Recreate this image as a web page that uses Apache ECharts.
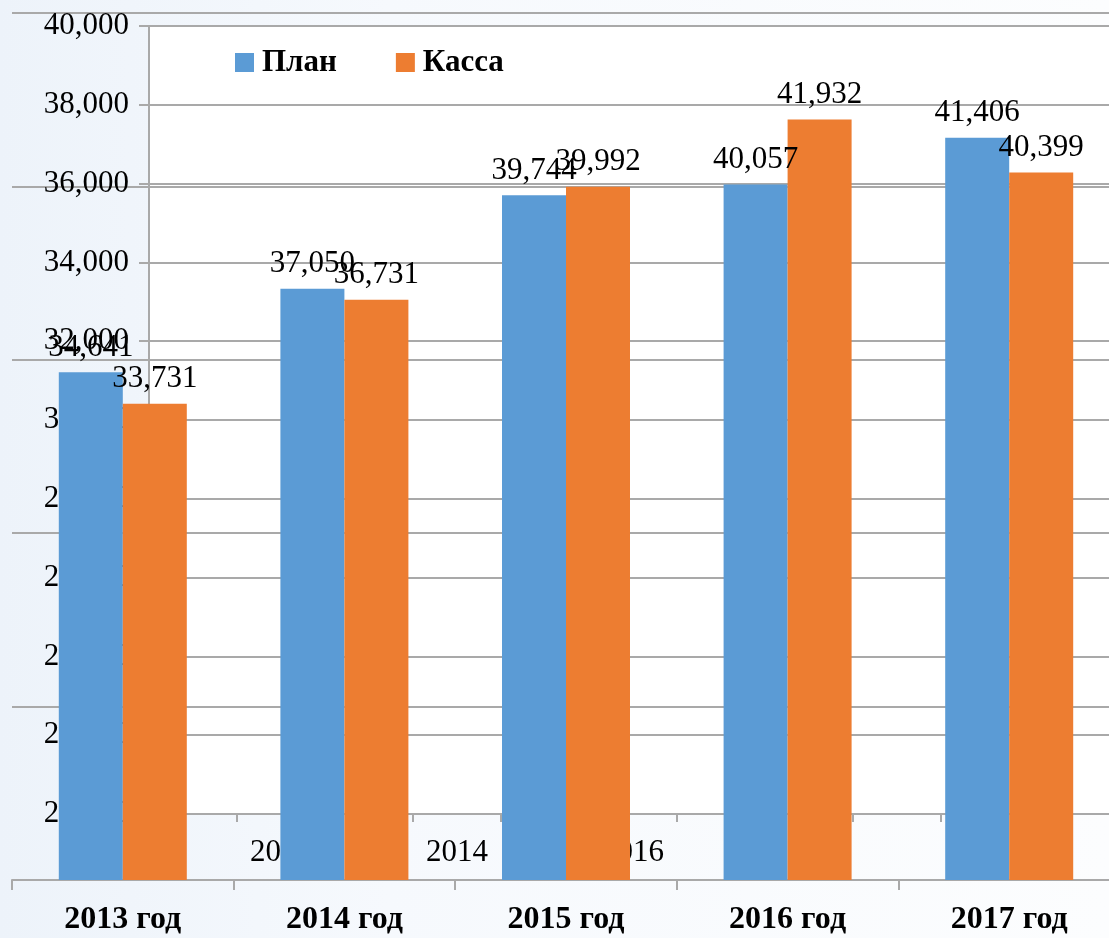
<!DOCTYPE html>
<html>
<head>
<meta charset="utf-8">
<script src="https://cdn.jsdelivr.net/npm/echarts@6/dist/echarts.min.js"></script>
<style>
  html, body { margin: 0; padding: 0; }
  body {
    width: 1109px; height: 938px; overflow: hidden;
    background: linear-gradient(90deg, #edf3fa 0%, #f6f9fd 35%, #fcfdfe 100%);
  }
  /* a bit wider than the window: both plots run past the right edge */
  #chart { width: 1130px; height: 938px; }
</style>
</head>
<body>
<div id="chart"></div>
<script>
// front chart: plan vs cash by year
const years = ['2013 год', '2014 год', '2015 год', '2016 год', '2017 год']
const plan = [34641, 37050, 39744, 40057, 41406]
const kassa = [33731, 36731, 39992, 41932, 40399]
const seriesNames = ['План', 'Касса']

// back chart (only its axes show through)
const backYears = ['', '2012', '', '2014', '', '2016', '', '', '', '', '']
const backMin = 20000
const backMax = 40000
const backStep = 2000

const frontMin = 20000
const frontMax = 45000
const frontStep = 5000

const serif = "'Liberation Serif', 'Times New Roman', serif"
const gridGray = '#a9a9a9'
const fmt = v => Number(v).toLocaleString('en-US')

const chart = echarts.init(document.getElementById('chart'))

const barLabel = {
  show: true, position: 'top', distance: 9,
  fontFamily: serif, fontSize: 31, color: '#000',
  formatter: p => fmt(p.value)
}

const option = {
  animation: false,
  textStyle: { fontFamily: serif },
  legend: {
    data: seriesNames,
    left: 230,
    top: 42,
    icon: 'rect',
    itemWidth: 19,
    itemHeight: 19,
    itemGap: 59,
    textStyle: {
      fontFamily: serif, fontSize: 31, fontWeight: 'bold', color: '#000',
      padding: [0, 0, 0, 3]
    }
  },
  grid: [
    {
      left: 149, top: 26, right: 13, bottom: 124,
      show: true, backgroundColor: '#ffffff', borderWidth: 0
    },
    {
      left: 12, top: 13, right: 10, bottom: 58
    }
  ],
  xAxis: [
    {
      gridIndex: 0,
      type: 'category',
      data: backYears,
      boundaryGap: true,
      axisLine: { lineStyle: { color: gridGray, width: 2 } },
      axisTick: { show: true, length: 8, lineStyle: { color: gridGray, width: 2 } },
      axisLabel: {
        interval: 0, margin: 23,
        fontFamily: serif, fontSize: 31, color: '#000'
      }
    },
    {
      gridIndex: 1,
      type: 'category',
      data: years,
      boundaryGap: true,
      axisLine: { lineStyle: { color: gridGray, width: 2 } },
      axisTick: { show: true, length: 10, lineStyle: { color: gridGray, width: 2 } },
      axisLabel: {
        interval: 0, margin: 24,
        fontFamily: serif, fontSize: 32, fontWeight: 'bold', color: '#000'
      }
    }
  ],
  yAxis: [
    {
      gridIndex: 0,
      type: 'value',
      min: backMin, max: backMax, interval: backStep,
      axisLine: { show: true, lineStyle: { color: gridGray, width: 2 } },
      axisTick: { show: true, length: 10, lineStyle: { color: gridGray, width: 2 } },
      splitLine: { show: true, lineStyle: { color: gridGray, width: 2 } },
      axisLabel: {
        margin: 20, fontFamily: serif, fontSize: 31, color: '#000',
        formatter: fmt
      }
    },
    {
      gridIndex: 1,
      type: 'value',
      min: frontMin, max: frontMax, interval: frontStep,
      axisLine: { show: false },
      axisTick: { show: false },
      axisLabel: { show: false },
      splitLine: { show: true, lineStyle: { color: gridGray, width: 2 } }
    }
  ],
  series: [
    {
      name: seriesNames[0],
      type: 'bar',
      xAxisIndex: 1, yAxisIndex: 1,
      data: plan,
      barWidth: 64,
      barGap: '0%',
      itemStyle: { color: '#5b9bd5' },
      label: barLabel
    },
    {
      name: seriesNames[1],
      type: 'bar',
      xAxisIndex: 1, yAxisIndex: 1,
      data: kassa,
      barWidth: 64,
      barGap: '0%',
      itemStyle: { color: '#ed7d31' },
      label: barLabel
    }
  ]
}

chart.setOption(option)
</script>
</body>
</html>
